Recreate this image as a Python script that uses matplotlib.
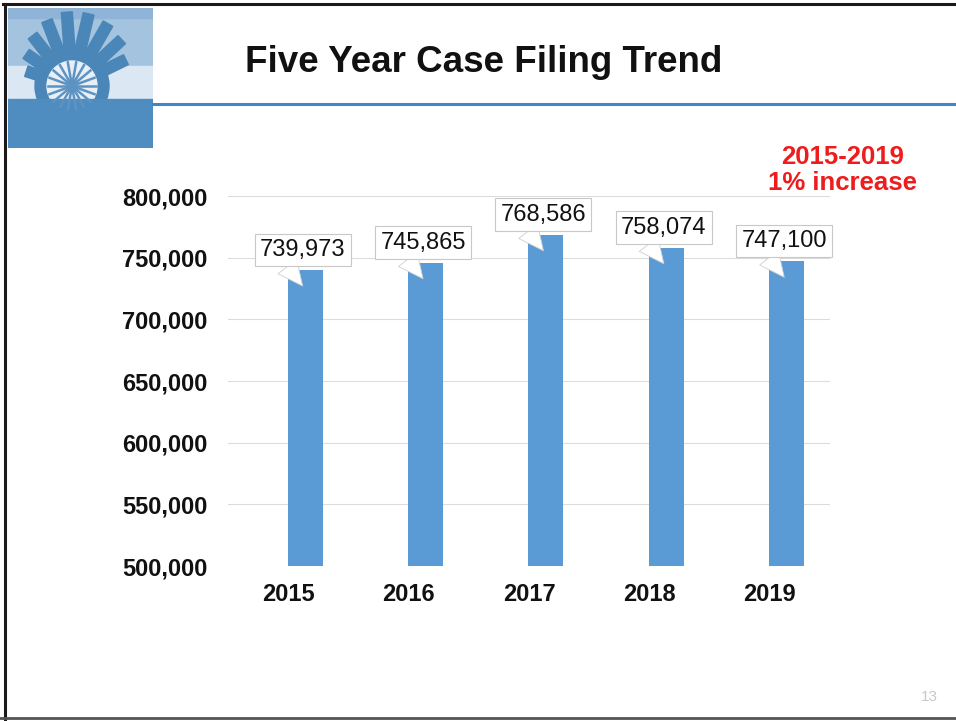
import numpy as np
import matplotlib.pyplot as plt
from matplotlib.patches import Rectangle, Circle, Polygon
from matplotlib.lines import Line2D
from matplotlib.ticker import FuncFormatter

plt.rcParams['font.family'] = ['Liberation Sans', 'DejaVu Sans']

# data
years = ['2015', '2016', '2017', '2018', '2019']
filings = [739973, 745865, 768586, 758074, 747100]
yticks = [500000, 550000, 600000, 650000, 700000, 750000, 800000]

bar_blue = '#5b9bd5'
W, H = 956, 721
fig = plt.figure(figsize=(W / 100, H / 100), dpi=100)
fig.patch.set_facecolor('white')

# --- slide frame ---
fig.add_artist(Line2D([3 / W, 1], [1 - 4 / H, 1 - 4 / H], color='#1a1a1a', lw=2.2))
fig.add_artist(Line2D([5 / W, 5 / W], [0, 1 - 4 / H], color='#1a1a1a', lw=2.2))
fig.add_artist(Line2D([0, 1], [3 / H, 3 / H], color='#555555', lw=2.0))

# blue rule under the title
fig.add_artist(Line2D([153 / W, 1], [1 - 104 / H, 1 - 104 / H], color='#3c87c8', lw=2.2))

# --- logo (water wheel) ---
lg = fig.add_axes([8 / W, 1 - 148 / H, 145 / W, 140 / H])
lg.set_xlim(0, 145)
lg.set_ylim(140, 0)
lg.axis('off')
lg.add_patch(Rectangle((0, 0), 145, 140, color='#a3c3df'))
lg.add_patch(Rectangle((0, 58), 145, 32, color='#dbe7f2'))
lg.add_patch(Rectangle((0, 0), 145, 10, color='#8fb4d8'))
cx, cy = 64, 78
ray_angles = [162, 145, 128, 111, 94, 77, 60, 43, 26]
ray_len = [48, 56, 64, 70, 74, 74, 72, 68, 60]
for ang, r1 in zip(ray_angles, ray_len):
    a = np.deg2rad(ang)
    d = np.array([np.cos(a), -np.sin(a)])
    n = np.array([-d[1], d[0]])
    c = np.array([cx, cy])
    hw = 5.5
    pts = [c + d * 30 + n * hw, c + d * r1 + n * hw, c + d * r1 - n * hw, c + d * 30 - n * hw]
    lg.add_patch(Polygon(pts, color='#4a86b8'))
lg.add_patch(Circle((cx, cy), 37, color='#4a86b8'))
lg.add_patch(Circle((cx, cy), 25, color='#e8eff7'))
for ang in np.linspace(0, 360, 18, endpoint=False):
    a = np.deg2rad(ang)
    lg.plot([cx, cx + 24 * np.cos(a)], [cy, cy + 24 * np.sin(a)], color='#5d93c2', lw=1.8)
lg.add_patch(Circle((cx, cy), 4, color='#4a86b8'))
lg.add_patch(Rectangle((0, 91), 145, 49, color='#4f8cc0'))

# --- title ---
fig.text(484 / W, 1 - 62 / H, 'Five Year Case Filing Trend', ha='center', va='center',
         fontsize=26.5, fontweight='bold', color='#111111')

# --- chart ---
ax = fig.add_axes([228 / W, 1 - 566 / H, 602 / W, 370 / H])
x = np.arange(len(years))
shift = 0.14  # the single series sits right of the category centre
ax.bar(x + shift, filings, width=0.29, color=bar_blue, zorder=2)
ax.set_xlim(-0.5, 4.5)
ax.set_ylim(500000, 800000)
ax.set_yticks(yticks)
ax.yaxis.set_major_formatter(FuncFormatter(lambda v, p: f'{int(v):,}'))
ax.set_xticks(x)
ax.set_xticklabels(years)
for s in ax.spines.values():
    s.set_visible(False)
ax.grid(axis='y', color='#dcdcdc', lw=0.8, zorder=0)
ax.tick_params(axis='both', length=0, labelsize=17, colors='#111111')
ax.tick_params(axis='y', pad=15)
ax.tick_params(axis='x', pad=12)
for lab in ax.get_xticklabels() + ax.get_yticklabels():
    lab.set_fontweight('bold')

px = 300000 / 370  # data units per pixel
for i, v in enumerate(filings):
    ax.annotate(f'{v:,}', xy=(i + shift - 0.02, v - 16 * px), xytext=(0, 26),
                textcoords='offset points', ha='center', va='center', fontsize=17,
                color='#111111', zorder=5, annotation_clip=False,
                bbox=dict(boxstyle='square,pad=0.22', fc='white', ec='#c8c8c8', lw=0.8),
                arrowprops=dict(arrowstyle='wedge,tail_width=1.0,shrink_factor=0.5',
                                fc='white', ec='#d0d0d0', lw=0.6, relpos=(0.27, 0.0),
                                shrinkA=0, shrinkB=0))

# increase note
fig.text(843 / W, 1 - 170 / H, '2015-2019\n1% increase', ha='center', va='center',
         fontsize=18.5, fontweight='bold', color='#ee1c1c', linespacing=1.15)

# page number
fig.text(929 / W, 1 - 697 / H, '13', ha='center', va='center', fontsize=11, color='#c8c8c8')

fig.savefig('out.png', dpi=100)
